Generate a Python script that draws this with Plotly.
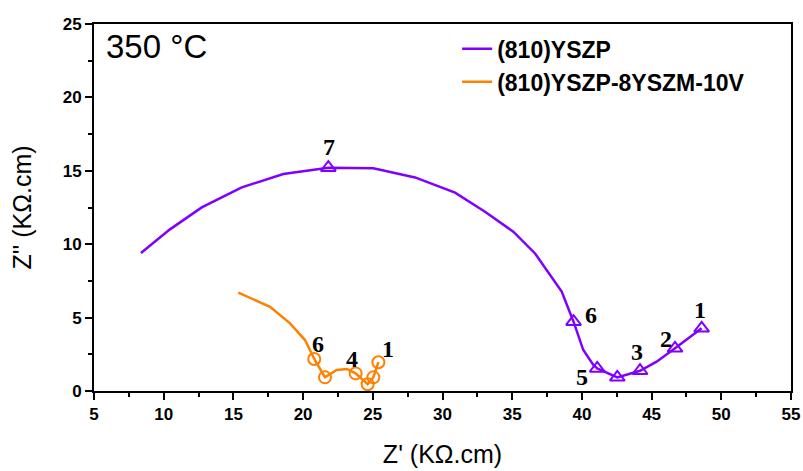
import plotly.graph_objects as go

# ---------------- data ----------------
# (810)YSZP  Nyquist curve
p_x = [8.37, 10.45, 12.73, 15.6, 18.58, 21.81, 25.04, 28.03, 30.9, 33.05, 35.08,
       36.64, 38.55, 39.4, 40.1, 40.82, 41.1, 42.54, 44.17, 45.36, 46.68, 48.59]
p_y = [9.40, 11.01, 12.51, 13.87, 14.78, 15.21, 15.17, 14.55, 13.51, 12.21, 10.85,
       9.37, 6.77, 4.72, 2.79, 1.77, 1.54, 0.93, 1.38, 2.00, 2.91, 4.27]
# marked frequency points (1..7)
p_mx = [48.59, 46.68, 44.17, 42.54, 41.1, 39.4, 21.81]
p_my = [4.27, 2.91, 1.38, 0.93, 1.54, 4.72, 15.21]
p_lab = ["1", "2", "3", "", "5", "6", "7"]

# (810)YSZP-8YSZM-10V
o_x = [15.35, 17.63, 19.06, 20.14, 20.8, 21.57, 22.41, 23.13, 23.77, 24.63, 25.04, 25.4]
o_y = [6.70, 5.74, 4.61, 3.47, 2.18, 0.93, 1.43, 1.50, 1.20, 0.46, 0.93, 1.96]
o_mx = [25.4, 25.04, 24.63, 23.77, 21.57, 20.8]
o_my = [1.96, 0.93, 0.46, 1.20, 0.93, 2.18]
o_lab = ["1", "", "", "4", "", "6"]

x_ticks = [5, 10, 15, 20, 25, 30, 35, 40, 45, 50, 55]
y_ticks = [0, 5, 10, 15, 20, 25]

# label offsets in pixels (xshift, yshift)
p_off = [(-2, 18), (-9, 9), (-3, 19), (0, 0), (-15, -9), (17, 7), (1, 21)]
o_off = [(10, 13), (0, 0), (0, 0), (-4, 14), (0, 0), (4, 15)]

PURPLE = "#8000FF"
ORANGE = "#FF8000"

fig = go.Figure()

fig.add_trace(go.Scatter(x=p_x, y=p_y, mode="lines", line=dict(color=PURPLE, width=2.5),
                         showlegend=False, hoverinfo="skip"))
fig.add_trace(go.Scatter(x=p_mx, y=p_my, mode="markers",
                         marker=dict(symbol="triangle-up-open", size=13, color=PURPLE,
                                     line=dict(width=2, color=PURPLE)),
                         showlegend=False))
fig.add_trace(go.Scatter(x=o_x, y=o_y, mode="lines", line=dict(color=ORANGE, width=2.5),
                         showlegend=False, hoverinfo="skip"))
fig.add_trace(go.Scatter(x=o_mx, y=o_my, mode="markers",
                         marker=dict(symbol="circle-open", size=12, color=ORANGE,
                                     line=dict(width=2, color=ORANGE)),
                         showlegend=False))

# legend entries (lines only)
fig.add_trace(go.Scatter(x=[None], y=[None], mode="lines", name="(810)YSZP",
                         line=dict(color=PURPLE, width=2.5)))
fig.add_trace(go.Scatter(x=[None], y=[None], mode="lines", name="(810)YSZP-8YSZM-10V",
                         line=dict(color=ORANGE, width=2.5)))

LBL = dict(family="Liberation Serif", size=24, color="black", weight="bold")
annos = []
for x, y, t, (dx, dy) in zip(p_mx, p_my, p_lab, p_off):
    if t:
        annos.append(dict(x=x, y=y, text="<b>" + t + "</b>", showarrow=False,
                          xshift=dx, yshift=dy, font=LBL))
for x, y, t, (dx, dy) in zip(o_mx, o_my, o_lab, o_off):
    if t:
        annos.append(dict(x=x, y=y, text="<b>" + t + "</b>", showarrow=False,
                          xshift=dx, yshift=dy, font=LBL))
annos.append(dict(xref="paper", yref="paper", x=0.014, y=0.995, xanchor="left", yanchor="top",
                  text="350 °C", showarrow=False,
                  font=dict(family="Liberation Sans", size=33, color="black")))

axis_common = dict(
    showline=True, linecolor="black", linewidth=2, mirror=True,
    ticks="outside", ticklen=7, tickwidth=2, tickcolor="black",
    showgrid=False, zeroline=False, automargin=False,
    tickfont=dict(family="Liberation Sans", size=17, color="black", weight="bold"),
)

fig.update_layout(
    width=803, height=471,
    margin=dict(l=94, r=12, t=24, b=80),
    paper_bgcolor="white", plot_bgcolor="white",
    xaxis=dict(range=[5, 55], tickvals=x_ticks, ticktext=["<b>%d</b>" % v for v in x_ticks],
               minor=dict(dtick=2.5, ticks="outside", ticklen=4, tickwidth=2, tickcolor="black"),
               title=dict(text="Z' (KΩ.cm)", standoff=22,
                          font=dict(family="Liberation Sans", size=25, color="black")),
               **axis_common),
    yaxis=dict(range=[0, 25], tickvals=y_ticks, ticktext=["<b>%d</b>" % v for v in y_ticks],
               minor=dict(dtick=2.5, ticks="outside", ticklen=4, tickwidth=2, tickcolor="black"),
               title=dict(text="Z'' (KΩ.cm)", standoff=24,
                          font=dict(family="Liberation Sans", size=25, color="black")),
               **axis_common),
    legend=dict(x=0.521, y=0.991, xanchor="left", yanchor="top",
                bgcolor="rgba(0,0,0,0)",
                font=dict(family="Liberation Sans", size=23, color="black", weight="bold"),
                tracegroupgap=0),
    annotations=annos,
    showlegend=True,
)

fig.write_html("out.html",
               config={"displayModeBar": False},
               post_script="document.body.style.margin='0';document.body.style.overflow='hidden';")
